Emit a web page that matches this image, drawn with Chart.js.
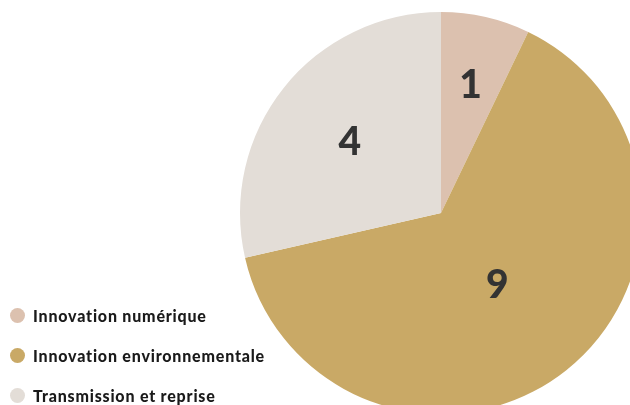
<!DOCTYPE html>
<html>
<head>
<meta charset="utf-8">
<script src="https://cdn.jsdelivr.net/npm/chart.js@4"></script>
<style>
  html, body { margin: 0; padding: 0; background: #fff; overflow: hidden; width: 630px; height: 405px; }
  #wrap { position: absolute; left: 0; top: 0; width: 650px; height: 420px; }
  #legend { position: absolute; left: 10px; top: 305px; font-family: Lato, "DejaVu Sans", sans-serif; font-weight: 900; font-size: 16px; letter-spacing: 0.8px; color: #1a1a1a; }
  .item { display: flex; align-items: center; height: 20px; margin-bottom: 20px; }
  .dot { width: 15px; height: 15px; border-radius: 50%; margin-right: 8px; }
</style>
</head>
<body>
<div id="wrap"><canvas id="pie"></canvas></div>
<div id="legend"></div>
<script>
(function() {
  const categories = ['Innovation numérique', 'Innovation environnementale', 'Transmission et reprise'];
  const values = [1, 9, 4];
  const colors = ['#dcc1af', '#c9a966', '#e3ddd7'];

  const legendDiv = document.getElementById('legend');
  let html = '';
  categories.forEach((name, i) => {
    html += `<div class="item"><span class="dot" style="background:${colors[i]}"></span>${name}</div>`;
  });
  legendDiv.innerHTML = html;

  // numbers drawn near the centroid of each slice
  const sliceLabels = {
    id: 'sliceLabels',
    afterDatasetsDraw(chart) {
      const ctx = chart.ctx;
      const meta = chart.getDatasetMeta(0);
      ctx.save();
      ctx.font = '900 39px Lato, "DejaVu Sans", sans-serif';
      ctx.fillStyle = '#333333';
      ctx.textAlign = 'center';
      ctx.textBaseline = 'middle';
      meta.data.forEach((arc, i) => {
        const half = (arc.endAngle - arc.startAngle) / 2;
        const mid = arc.startAngle + half;
        let d = 2 * arc.outerRadius * Math.sin(half) / (3 * half);
        d = Math.max(d, 0.45 * arc.outerRadius);
        ctx.fillText(String(values[i]), arc.x + d * Math.cos(mid), arc.y + d * Math.sin(mid) + 2);
      });
      ctx.restore();
    }
  };

  new Chart(document.getElementById('pie').getContext('2d'), {
    type: 'pie',
    data: {
      labels: categories,
      datasets: [{
        data: values,
        backgroundColor: colors,
        borderWidth: 0
      }]
    },
    options: {
      responsive: true,
      maintainAspectRatio: false,
      animation: false,
      layout: { padding: { left: 240, top: 12, right: 8, bottom: 6 } },
      plugins: {
        legend: { display: false },
        tooltip: { enabled: false }
      }
    },
    plugins: [sliceLabels]
  });
})();
</script>
</body>
</html>
